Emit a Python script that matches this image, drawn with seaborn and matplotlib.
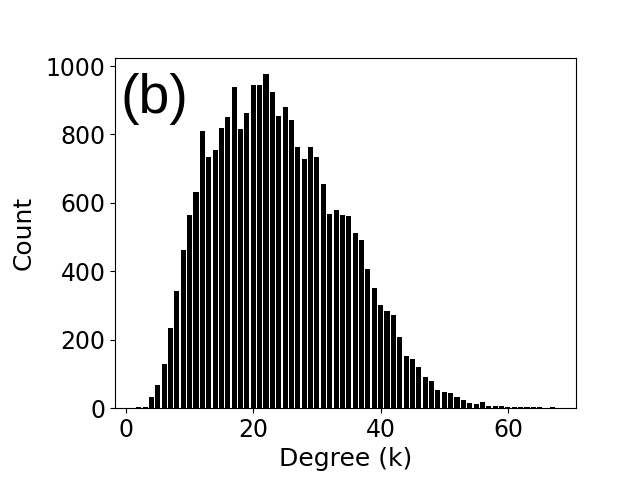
# %% libraries
import matplotlib
matplotlib.use('Agg')
import matplotlib.pyplot as plt
import seaborn as sns
import pandas as pd

# %% data (degree distribution)
degree = list(range(2, 68))
counts = [4, 4, 31, 68, 130, 235, 343, 462, 565, 632,
          810, 733, 755, 819, 851, 939, 815, 864, 945, 945,
          976, 923, 853, 879, 841, 763, 729, 763, 733, 655,
          567, 579, 565, 561, 512, 491, 407, 351, 302, 284,
          272, 209, 151, 144, 121, 91, 78, 52, 48, 45,
          33, 24, 16, 13, 18, 7, 7, 7, 4, 4,
          4, 4, 4, 3, 0, 4]

df = pd.DataFrame({'k': degree, 'count': counts})

# %% figure
fig = plt.figure(figsize=(6.4, 4.8), dpi=100)
ax = fig.add_subplot(1, 1, 1)
fig.subplots_adjust(left=0.18, bottom=0.15, right=0.9, top=0.88)

sns.barplot(data=df, x='k', y='count', native_scale=True,
            color='black', width=0.8, saturation=1, ax=ax)

# axes
ax.set_xlabel('Degree (k)', fontsize=18)
ax.set_ylabel('Count', fontsize=18, labelpad=7)
ax.tick_params(labelsize=17)
ax.set_xticks([0, 20, 40, 60])

# panel label
ax.text(0.012, 0.955, '(b)', transform=ax.transAxes, fontsize=40,
        family=['Liberation Sans', 'DejaVu Sans'],
        ha='left', va='top')

plt.savefig('out.png', dpi=100)
